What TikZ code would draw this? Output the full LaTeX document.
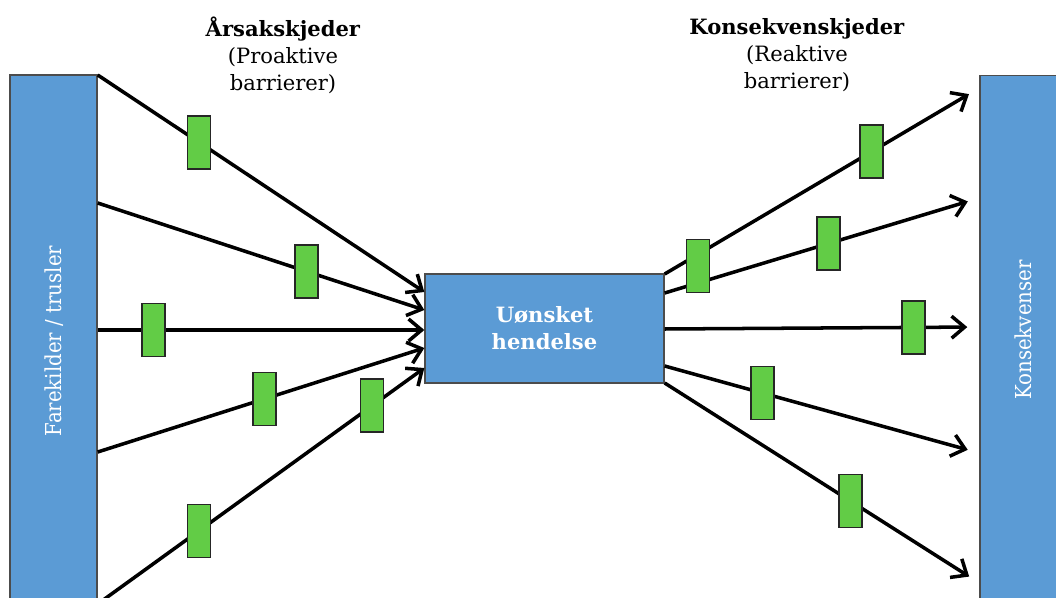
\documentclass[tikz,border=0pt]{standalone}
\usepackage{fontspec}
\setmainfont{DejaVu Serif}
\newfontfamily\barfont{DejaVu Serif Condensed}
\usetikzlibrary{arrows.meta}
\definecolor{boxblue}{RGB}{91,155,213}
\definecolor{barriergreen}{RGB}{98,204,70}

\begin{document}
\begin{tikzpicture}[x=0.02cm, y=-0.02cm,
    block/.style={draw=black!70, line width=0.8pt, fill=boxblue, inner sep=0pt},
    barrier/.style={draw=black!85, line width=0.9pt, fill=barriergreen,
      minimum width=0.46cm, minimum height=1.06cm, inner sep=0pt},
    chain/.style={line width=2pt},
    arrow/.style={chain, -{Straight Barb[length=2.6mm,width=4.4mm]}},
    heading/.style={align=center, font=\fontsize{12}{15.3}\selectfont},
    bartext/.style={rotate=90, text=white, font=\barfont\fontsize{12.5}{14}\selectfont}]
    \useasboundingbox (0,0) rectangle (1056,598);
    \clip (0,0) rectangle (1056,598);

    % Headings.
    \node[heading] (aarsak) at (283,55) {\textbf{Årsakskjeder}\\(Proaktive\\barrierer)};
    \node[heading] (konsekvens) at (797,55) {\textbf{Konsekvenskjeder}\\(Reaktive\\barrierer)};

    % Blocks.
    \node[block, minimum width=1.74cm, minimum height=10.9cm] (kilder) at (53.5,347.5) {};
    \node[bartext] (kildertekst) at (54,341) {Farekilder / trusler};
    \node[block, minimum width=1.8cm, minimum height=10.9cm] (folger) at (1025,348) {};
    \node[bartext] (folgertekst) at (1023,330) {Konsekvenser};
    \node[block, minimum width=4.78cm, minimum height=2.18cm, align=center, text=white,
      font=\bfseries\fontsize{12}{15.3}\selectfont] (hendelse) at (544.5,328.5) {Uønsket\\hendelse};

    % Causes into the event.
    \draw[arrow] (kilder.east |- 0,75)  -- node[barrier, pos=0.31] (p1) {} (hendelse.west |- 0,292);
    \draw[arrow] (kilder.east |- 0,203) -- node[barrier, pos=0.64] (p2) {} (hendelse.west |- 0,310);
    \draw[arrow] (kilder.east |- 0,330) -- node[barrier, pos=0.17] (p3) {} (hendelse.west |- 0,330);
    \draw[arrow] (kilder.east |- 0,452) -- node[barrier, pos=0.51] (p4) {} (hendelse.west |- 0,348);
    \draw[arrow] (kilder.east |- 0,604) -- node[barrier, pos=0.31] (p5) {}
      node[barrier, pos=0.84] (p6) {} (hendelse.west |- 0,368);

    % Consequences out of the event.
    \draw[arrow, shorten >=0.24cm] (hendelse.east |- 0,274) -- node[barrier, pos=0.658] (r1) {} (folger.west |- 0,88);
    \draw[arrow, shorten >=0.24cm] (hendelse.east |- 0,293) -- node[barrier, pos=0.52] (r2) {} (folger.west |- 0,198);
    \draw[arrow, shorten >=0.24cm] (hendelse.east |- 0,329) -- node[barrier, pos=0.79] (r3) {} (folger.west |- 0,327);
    \draw[arrow, shorten >=0.24cm] (hendelse.east |- 0,366) -- node[barrier, pos=0.31] (r4) {} (folger.west |- 0,453);
    \draw[arrow, shorten >=0.24cm] (hendelse.east |- 0,383) -- node[barrier, pos=0.59] (r5) {} (folger.west |- 0,583);
    \node[barrier] (r0) at (698,266) {};

  \end{tikzpicture}
\end{document}
